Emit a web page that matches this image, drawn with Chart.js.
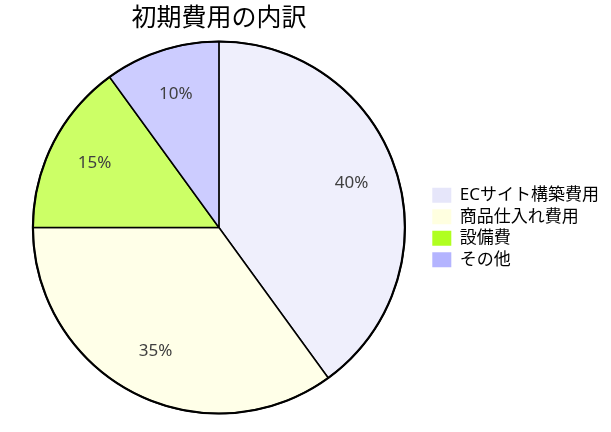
<!DOCTYPE html>
<html>
<head>
<meta charset="utf-8">
<script src="https://cdn.jsdelivr.net/npm/chart.js@4.4.0/dist/chart.umd.min.js"></script>
<style>
html,body{margin:0;padding:0;background:#fff;}
#wrap{position:relative;width:611px;height:432px;}
</style>
</head>
<body>
<div id="wrap"><canvas id="c"></canvas></div>
<script>
const titleText = '初期費用の内訳';
const categories = ['ECサイト構築費用', '商品仕入れ費用', '設備費', 'その他'];
const shares = [40, 35, 15, 10];
const sliceColors = ['#efeffc', '#ffffe8', '#ccff66', '#ccccff'];
const legendColors = ['#e6e6fa', '#ffffe0', '#b0ff20', '#b4b4ff'];

const FONT = '"Noto Sans", "Noto Sans CJK JP", sans-serif';

const labelPlugin = {
  id: 'sliceLabels',
  afterDatasetsDraw(chart) {
    const ctx = chart.ctx;
    const meta = chart.getDatasetMeta(0);
    ctx.save();
    if (meta.data.length) {
      const a0 = meta.data[0];
      ctx.beginPath();
      ctx.arc(a0.x, a0.y, a0.outerRadius, 0, Math.PI * 2);
      ctx.lineWidth = 2.2;
      ctx.strokeStyle = '#000';
      ctx.stroke();
    }
    ctx.font = '17px ' + FONT;
    ctx.fillStyle = '#404040';
    ctx.textAlign = 'center';
    ctx.textBaseline = 'middle';
    meta.data.forEach((arc, i) => {
      const mid = (arc.startAngle + arc.endAngle) / 2;
      const r = arc.outerRadius * 0.75;
      ctx.fillText(shares[i] + '%', arc.x + Math.cos(mid) * r, arc.y + Math.sin(mid) * r - 1);
    });
    ctx.restore();
  }
};

new Chart(document.getElementById('c'), {
  type: 'pie',
  data: {
    labels: categories,
    datasets: [{
      data: shares,
      backgroundColor: sliceColors,
      borderColor: '#000',
      borderWidth: 1.5,
      radius: 186
    }]
  },
  options: {
    responsive: true,
    maintainAspectRatio: false,
    animation: false,
    layout: { padding: { left: 10, top: 0, bottom: 18, right: 2 } },
    plugins: {
      title: {
        display: true,
        text: titleText,
        fullSize: false,
        color: '#000',
        font: { family: FONT, size: 25, weight: 'normal' },
        padding: { top: 4, bottom: 7 }
      },
      legend: {
        position: 'right',
        fullSize: false,
        labels: {
          color: '#000',
          font: { family: FONT, size: 17 },
          boxWidth: 19,
          boxHeight: 15,
          padding: 4.5,
          generateLabels(chart) {
            return categories.map((c, i) => ({
              text: c,
              fillStyle: legendColors[i],
              strokeStyle: legendColors[i],
              lineWidth: 0,
              hidden: false,
              index: i,
              fontColor: '#000'
            }));
          }
        }
      },
      tooltip: { enabled: false }
    }
  },
  plugins: [labelPlugin]
});
</script>
</body>
</html>
